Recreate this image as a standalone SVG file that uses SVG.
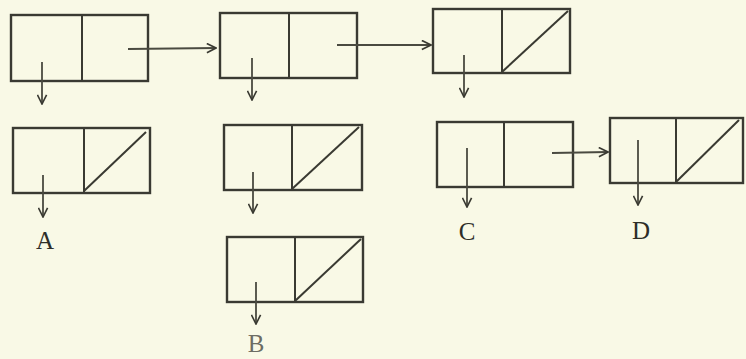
<svg xmlns="http://www.w3.org/2000/svg" width="746" height="359" viewBox="0 0 746 359">
<defs>
<marker id="ah2" viewBox="0 0 12 12" refX="11" refY="6" markerWidth="11" markerHeight="11" orient="auto" markerUnits="userSpaceOnUse">
<path d="M1,1 L11,6 L1,11" fill="none" stroke="#3a3a32" stroke-width="1.8"/>
</marker>
<style>
.box{fill:none;stroke:#3a3a32;stroke-width:2.4}
.ln{fill:none;stroke:#3a3a32;stroke-width:2}
.c{fill:none;stroke:#4a4a40;stroke-width:1.8;marker-end:url(#ah2)}
.lbl{font-family:"Liberation Serif","DejaVu Serif",serif;font-size:25px;fill:#2e2e28;text-anchor:middle}
</style>
</defs>
<rect width="746" height="359" fill="#f9f9e6"/>
<g id="node1"><rect class="box" x="11" y="15" width="137" height="66"/><line class="ln" x1="82" y1="15" x2="82" y2="81"/></g>
<g id="node2"><rect class="box" x="220" y="13" width="137" height="65"/><line class="ln" x1="289" y1="13" x2="289" y2="78"/></g>
<g id="node3"><rect class="box" x="433" y="9" width="137" height="64"/><line class="ln" x1="502" y1="9" x2="502" y2="73"/><line class="ln" x1="502" y1="72" x2="568" y2="11"/></g>
<g id="nodeA"><rect class="box" x="13" y="128" width="137" height="65"/><line class="ln" x1="84" y1="128" x2="84" y2="193"/><line class="ln" x1="84" y1="191" x2="146" y2="132"/></g>
<g id="nodeB1"><rect class="box" x="224" y="125" width="138" height="65"/><line class="ln" x1="292" y1="125" x2="292" y2="190"/><line class="ln" x1="292" y1="189" x2="359" y2="127"/></g>
<g id="nodeB2"><rect class="box" x="227" y="237" width="136" height="65"/><line class="ln" x1="295" y1="237" x2="295" y2="302"/><line class="ln" x1="295" y1="301" x2="361" y2="239"/></g>
<g id="nodeC"><rect class="box" x="437" y="122" width="136" height="65"/><line class="ln" x1="504" y1="122" x2="504" y2="187"/></g>
<g id="nodeD"><rect class="box" x="610" y="118" width="133" height="65"/><line class="ln" x1="676" y1="118" x2="676" y2="183"/><line class="ln" x1="676" y1="182" x2="739" y2="120"/></g>
<g id="connectors">
<path class="c" d="M128,49 L216,48"/>
<path class="c" d="M337,45 L431,45"/>
<path class="c" d="M552,153 L608,152"/>
<path class="c" d="M42,62 L42,104"/>
<path class="c" d="M252,58 L252,100"/>
<path class="c" d="M464,55 L464,97"/>
<path class="c" d="M43,175 L43,217"/>
<path class="c" d="M253,172 L253,213"/>
<path class="c" d="M256,282 L256,324"/>
<path class="c" d="M467,148 L467,207"/>
<path class="c" d="M638,140 L638,205"/>
</g>
<g id="labels">
<text class="lbl" x="45" y="249">A</text>
<text class="lbl" x="256" y="352" fill-opacity="0.7">B</text>
<text class="lbl" x="467" y="240">C</text>
<text class="lbl" x="641" y="239">D</text>
</g>
</svg>
